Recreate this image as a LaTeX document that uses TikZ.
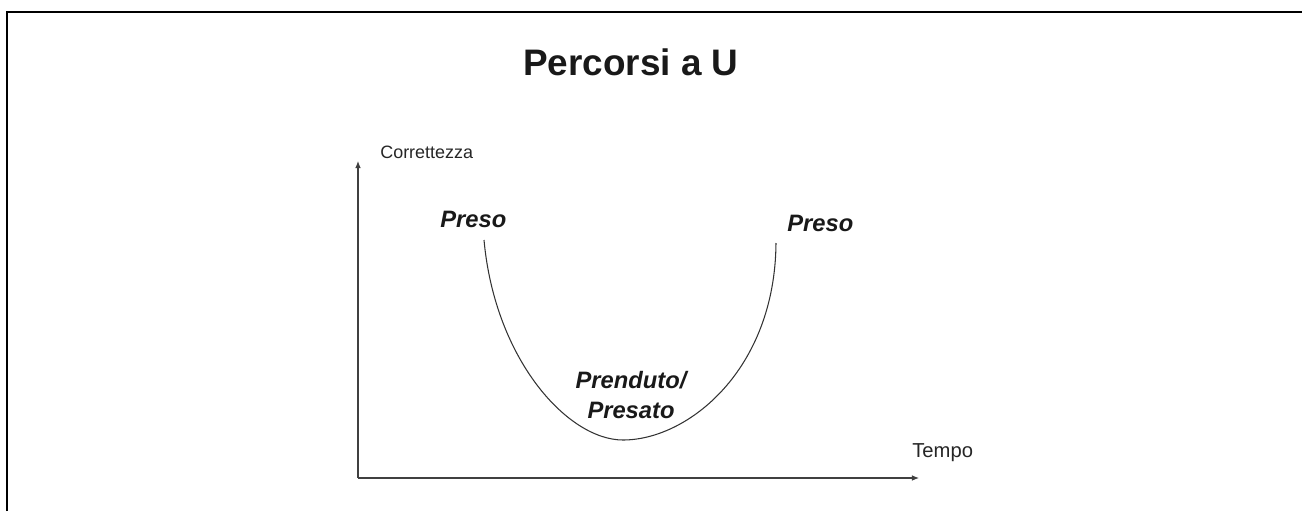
\documentclass[tikz,border=0pt]{standalone}
\usepackage{fontspec}
\setmainfont{Liberation Sans}
\usepackage{tikz}
\usetikzlibrary{arrows.meta}
\usetikzlibrary{positioning}

\begin{document}
\begin{tikzpicture}[x=0.02cm, y=-0.02cm]
\tikzstyle{asse}=[draw=black!75, line width=0.6pt, -{Latex[length=4pt, width=3.2pt]}]
\tikzstyle{curva}=[draw=black!80, line width=0.6pt]
\tikzstyle{etic}=[inner sep=0pt, text=black!85]
\tikzstyle{forma}=[inner sep=0pt, font=\fontsize{13.5}{17}\selectfont\bfseries\itshape, text=black!90]
\useasboundingbox (0,0) rectangle (1302,511);
% cornice
\draw[line width=1.1pt] (7,511) -- (7,12) -- (1302,12);
\node[inner sep=0pt, font=\fontsize{21}{25}\selectfont\bfseries, text=black!90] (titolo) at (631,62) {Percorsi a U};
% assi
\coordinate (O) at (358,478);
\coordinate (ytop) at (358,161);
\coordinate (xend) at (919,478);
\draw[asse] (O) -- (ytop);
\draw[asse] (O) -- (xend);
\node[etic, anchor=base west, font=\fontsize{10.2}{12}\selectfont] (corr) at (380,158) {Correttezza};
\node[etic, anchor=base west, font=\fontsize{11.5}{13}\selectfont] (tempo) at (912,457) {Tempo};
% curva a U
\coordinate (inizio) at (484,240);
\coordinate (fondo) at (623,440);
\coordinate (fine) at (776,243);
\draw[curva] (inizio) .. controls (495,360) and (568,440) .. (fondo)
  .. controls (688,440) and (775,370) .. (fine);
%\draw[curva] (inizio) .. controls (490,360) and (580,440) .. (fondo);
\node[forma, anchor=base west] (preso1) at (440,227) {Preso};
\node[forma, anchor=base west] (preso2) at (787,231) {Preso};
\node[forma, align=center, anchor=base] (prenduto) at (631,418) {Prenduto/\\Presato};
\end{tikzpicture}
\end{document}
